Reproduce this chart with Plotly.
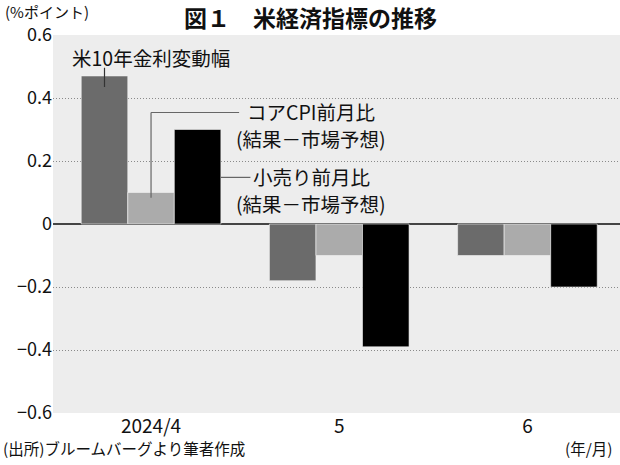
import plotly.graph_objects as go

FONT = "Noto Sans CJK JP"

# data
months = ["2024/4", "5", "6"]
series_names = ["米10年金利変動幅", "コアCPI前月比", "小売り前月比"]
label_note = "(結果－市場予想)"
rate_change = [0.47, -0.18, -0.10]
core_cpi_surprise = [0.10, -0.10, -0.10]
retail_surprise = [0.30, -0.39, -0.20]
y_ticks = [0.6, 0.4, 0.2, 0, -0.2, -0.4, -0.6]
y_tick_text = ["0.6", "0.4", "0.2", "0", "−0.2", "−0.4", "−0.6"]

colors = ["#6b6b6b", "#ababab", "#000000"]
BARGAP = 0.258
bar_w = (1 - BARGAP) / 3  # width of one bar in category units

fig = go.Figure()
for name, vals, c in zip(series_names, [rate_change, core_cpi_surprise, retail_surprise], colors):
    fig.add_trace(go.Bar(
        x=months, y=vals, name=name,
        marker=dict(color=c, line=dict(color="#f4f4f4", width=0.6)),
    ))

# leader lines (category index coordinates)
line_dark = dict(color="#333333", width=1.2)
line_gray = dict(color="#666666", width=1.2)
shapes = [
    # 米10年金利変動幅
    dict(type="line", xref="x", yref="y", x0=-bar_w, x1=-bar_w, y0=0.496, y1=0.435, line=line_dark),
    # コアCPI
    dict(type="line", xref="x", yref="y", x0=0, x1=0, y0=0.354, y1=0.083, line=line_gray),
    dict(type="line", xref="x", yref="y", x0=0, x1=0.468, y0=0.354, y1=0.354, line=line_gray),
    # 小売り
    dict(type="line", xref="x", yref="y", x0=1.5 * bar_w, x1=0.528, y0=0.148, y1=0.148, line=line_gray),
]

ann_font = dict(family=FONT, size=19.5, color="#111111")
note_font = dict(family=FONT, size=15, color="#111111")


def label(text, x, y):
    return dict(x=x, y=y, xref="x", yref="y", text=text, showarrow=False,
                xanchor="center", yanchor="middle", font=ann_font, borderpad=0)


annotations = [
    label(series_names[0], 0, 0.528),
    label(series_names[1], 0.85, 0.356),
    label(label_note, 0.85, 0.270),
    label(series_names[2], 0.85, 0.150),
    label(label_note, 0.85, 0.064),
    # title and notes
    dict(x=0.454, y=1.047, xref="paper", yref="paper", text="<b>図１　米経済指標の推移</b>",
         showarrow=False, xanchor="center", yanchor="middle", borderpad=0,
         font=dict(family=FONT, size=23, color="#111111")),
    dict(x=-0.087, y=1.061, xref="paper", yref="paper", text="(%ポイント)", borderpad=0,
         showarrow=False, xanchor="left", yanchor="middle", font=note_font),
    dict(x=-0.092, y=-0.093, xref="paper", yref="paper", text="(出所)ブルームバーグより筆者作成",
         showarrow=False, xanchor="left", yanchor="middle",
         font=dict(family=FONT, size=15.5, color="#111111")),
    dict(x=0.991, y=-0.093, xref="paper", yref="paper", text="(年/月)",
         showarrow=False, xanchor="right", yanchor="middle",
         font=dict(family=FONT, size=15.5, color="#111111")),
]

fig.update_layout(
    width=620, height=465,
    margin=dict(l=53, r=0, t=35, b=52),
    paper_bgcolor="white", plot_bgcolor="#ededed",
    barmode="group", bargap=BARGAP, bargroupgap=0,
    showlegend=False,
    font=dict(family=FONT, size=18, color="#111111"),
    shapes=shapes, annotations=annotations,
)
fig.update_xaxes(
    range=[-0.521, 2.492], showgrid=False, zeroline=False, showline=False,
    ticks="", tickfont=dict(family=FONT, size=19),
)
fig.update_yaxes(
    range=[-0.6, 0.6], tickvals=y_ticks, ticktext=y_tick_text,
    showgrid=True, gridcolor="#8a8a8a", griddash="1px,2px", gridwidth=1,
    zeroline=True, zerolinecolor="#444444", zerolinewidth=1.5,
    showline=False, ticks="", tickfont=dict(family=FONT, size=18),
)

# page has a default 8px body margin; drop it so the figure fills the window
fig.write_html(
    "out.html",
    config={"displayModeBar": False},
    post_script="document.body.style.margin='0';",
)
